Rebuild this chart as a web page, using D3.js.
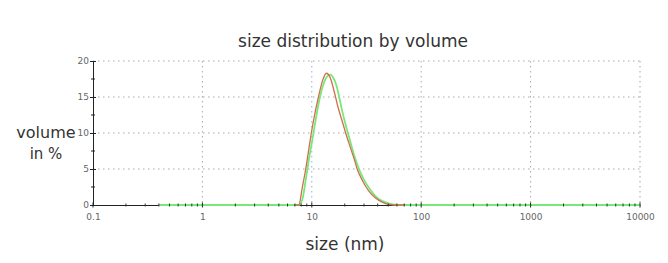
<!DOCTYPE html>
<html>
<head>
<meta charset="utf-8">
<script src="https://cdn.jsdelivr.net/npm/d3@7"></script>
<style>
  body { margin: 0; background: #fff; }
  text { font-family: "DejaVu Sans", sans-serif; }
</style>
</head>
<body>
<div id="chart"></div>
<script>
// data
var xTicks = [0.1, 1, 10, 100, 1000, 10000];
var yTicks = [0, 5, 10, 15, 20];

var redSize = [7.0, 7.6, 8.2, 8.8, 9.4, 9.9, 10.7, 11.5, 12.5, 13.6, 14.8, 16.0, 17.5, 19.0, 20.4, 22.5, 24.5, 26.0, 29.0, 33.0, 38.0, 44.0, 50.0, 60.0, 70.0];
var redVol = [0, 0, 2.5, 5, 7.8, 10, 12.8, 15, 17.2, 18.3, 17.6, 15.8, 13.4, 11.6, 10, 8, 6.3, 5, 3.4, 2, 1, 0.4, 0.1, 0, 0];

var greenSize = [0.4, 1, 2, 5, 7.6, 8.2, 8.8, 9.4, 10.1, 10.9, 11.8, 12.8, 13.9, 14.8, 15.8, 16.8, 17.8, 19.0, 20.5, 22.5, 24.5, 27.0, 30.0, 34.0, 39.0, 45.0, 52.0, 62.0, 100, 1000, 10000];
var greenVol = [0, 0, 0, 0, 0, 0.8, 3.5, 6.3, 9, 12, 14.8, 16.8, 17.9, 18.1, 17.6, 16.6, 15, 13, 11, 8.8, 6.8, 5, 3.5, 2.2, 1.1, 0.5, 0.15, 0, 0, 0, 0];

var svgWidth = 668;
var svgHeight = 263;
var margin = { top: 61, right: 28, bottom: 58, left: 93 };
var width = svgWidth - margin.left - margin.right;
var height = svgHeight - margin.top - margin.bottom;

var svg = d3.select("#chart").append("svg")
  .attr("width", svgWidth)
  .attr("height", svgHeight);

var chartGroup = svg.append("g")
  .attr("transform", `translate(${margin.left}, ${margin.top})`);

var x = d3.scaleLog().domain([0.1, 10000]).range([0, width]);
var y = d3.scaleLinear().domain([0, 20]).range([height, 0]);

// gridlines
chartGroup.selectAll(".hgrid")
  .data(yTicks.filter(d => d > 0))
  .enter().append("line")
  .attr("x1", 0).attr("x2", width)
  .attr("y1", d => y(d)).attr("y2", d => y(d))
  .attr("stroke", "#a8a8a8")
  .attr("stroke-dasharray", "1.5,3.5");

chartGroup.selectAll(".vgrid")
  .data(xTicks.filter(d => d > 0.1))
  .enter().append("line")
  .attr("x1", d => x(d)).attr("x2", d => x(d))
  .attr("y1", 0).attr("y2", height)
  .attr("stroke", d => d === 10 ? "#8fb3d4" : "#a8a8a8")
  .attr("stroke-dasharray", "1.5,3.5");

// y axis
var leftAxis = d3.axisLeft(y).tickValues(yTicks).tickSize(3).tickPadding(1);
var yAxisG = chartGroup.append("g").call(leftAxis);
yAxisG.select(".domain").attr("stroke", "#222");
yAxisG.selectAll(".tick line").attr("stroke", "#222").attr("x2", 3).attr("x1", -3);
yAxisG.selectAll(".tick text").style("font-size", "9px").attr("fill", "#666");

// y minor ticks
chartGroup.selectAll(".yminor")
  .data([2.5, 7.5, 12.5, 17.5])
  .enter().append("line")
  .attr("x1", -2).attr("x2", 2)
  .attr("y1", d => y(d)).attr("y2", d => y(d))
  .attr("stroke", "#222");

// x axis
var bottomAxis = d3.axisBottom(x).tickValues(xTicks).tickFormat(d3.format("")).tickSize(0).tickPadding(9);
var xAxisG = chartGroup.append("g")
  .attr("transform", `translate(0, ${height})`)
  .call(bottomAxis);
xAxisG.select(".domain").attr("stroke", "#222");
xAxisG.selectAll(".tick text").style("font-size", "9px").attr("fill", "#666");

// green series
var line = d3.line().curve(d3.curveMonotoneX).x(d => x(d[0])).y(d => y(d[1]));
chartGroup.append("path")
  .datum(d3.zip(greenSize, greenVol))
  .attr("d", line)
  .attr("fill", "none")
  .attr("stroke", "#78e878")
  .attr("stroke-width", 1.8);

// red series
chartGroup.append("path")
  .datum(d3.zip(redSize, redVol))
  .attr("d", line)
  .attr("fill", "none")
  .attr("stroke", "#cf6e4e")
  .attr("stroke-width", 1.3);

// x ticks (major + minor) drawn over the lines
var minorX = [];
for (var dec = 0.1; dec < 10000; dec *= 10) {
  for (var k = 2; k <= 9; k++) minorX.push(dec * k);
}
chartGroup.selectAll(".xminor")
  .data(minorX)
  .enter().append("line")
  .attr("x1", d => x(d)).attr("x2", d => x(d))
  .attr("y1", height - 1.5).attr("y2", height + 1.5)
  .attr("stroke", "#333");
chartGroup.selectAll(".xmajor")
  .data(xTicks)
  .enter().append("line")
  .attr("x1", d => x(d)).attr("x2", d => x(d))
  .attr("y1", height - 2.5).attr("y2", height + 2.5)
  .attr("stroke", "#222");

// labels
svg.append("text")
  .attr("x", 353).attr("y", 47)
  .attr("text-anchor", "middle")
  .style("font-size", "17px")
  .attr("fill", "#333")
  .text("size distribution by volume");

svg.append("text")
  .attr("x", 345).attr("y", 250)
  .attr("text-anchor", "middle")
  .style("font-size", "17px")
  .attr("fill", "#333")
  .text("size (nm)");

svg.append("text")
  .attr("x", 46).attr("y", 138)
  .attr("text-anchor", "middle")
  .style("font-size", "16px")
  .attr("fill", "#333")
  .text("volume");

svg.append("text")
  .attr("x", 46).attr("y", 159)
  .attr("text-anchor", "middle")
  .style("font-size", "15px")
  .attr("fill", "#333")
  .text("in %");
</script>
</body>
</html>
